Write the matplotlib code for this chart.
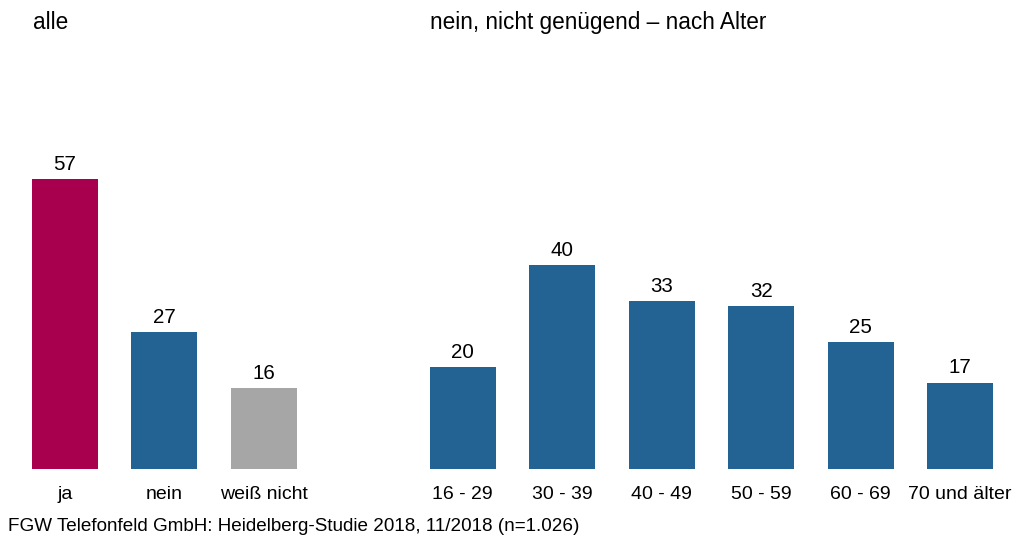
import matplotlib
matplotlib.use("Agg")
import matplotlib.pyplot as plt

plt.rcParams["font.family"] = ["Liberation Sans", "DejaVu Sans"]

# overall answer
all_labels = ["ja", "nein", "weiß nicht"]
all_values = [57, 27, 16]
all_colors = ["#A8004E", "#236394", "#A6A6A6"]

# "nein, nicht genügend" by age group
age_labels = ["16 - 29", "30 - 39", "40 - 49", "50 - 59", "60 - 69", "70 und älter"]
age_values = [20, 40, 33, 32, 25, 17]
age_color = "#236394"

W, H = 1016, 538
BASE = 69  # baseline, pixels from bottom
fig = plt.figure(figsize=(W / 100, H / 100), dpi=100)
ax = fig.add_axes([0, BASE / H, 1, (H - BASE) / H])

# slot positions: left group 0..2, gap, right group 4..9
x_all = list(range(len(all_values)))
x_age = [4 + i for i in range(len(age_values))]

bars1 = ax.bar(x_all, all_values, width=0.664, color=all_colors)
bars2 = ax.bar(x_age, age_values, width=0.664, color=age_color)

for bars, vals in ((bars1, all_values), (bars2, age_values)):
    for b, v in zip(bars, vals):
        ax.annotate(str(v), (b.get_x() + b.get_width() / 2, v),
                    xytext=(0, 6.5), textcoords="offset points",
                    ha="center", va="baseline", fontsize=14.8)

# slot 0 centre at 65px, spacing ~99.44px; 5.088px per percentage point
px_per_slot = 99.44
ax.set_xlim(-65 / px_per_slot, (W - 65) / px_per_slot)
ax.set_ylim(0, (H - BASE) / 5.088)

ax.set_xticks(x_all + x_age)
ax.set_xticklabels(all_labels + age_labels, fontsize=14)
ax.tick_params(axis="x", length=0, pad=12)
ax.set_yticks([])
for s in ax.spines.values():
    s.set_visible(False)

fig.text(33 / W, 1 - 29 / H, "alle", fontsize=16.3, va="baseline", ha="left")
fig.text(430 / W, 1 - 29 / H, "nein, nicht genügend – nach Alter",
         fontsize=16.3, va="baseline", ha="left")
fig.text(8 / W, 1 - 531 / H,
         "FGW Telefonfeld GmbH: Heidelberg-Studie 2018, 11/2018 (n=1.026)",
         fontsize=13.6, va="baseline", ha="left")

fig.savefig("out.png", dpi=100)
